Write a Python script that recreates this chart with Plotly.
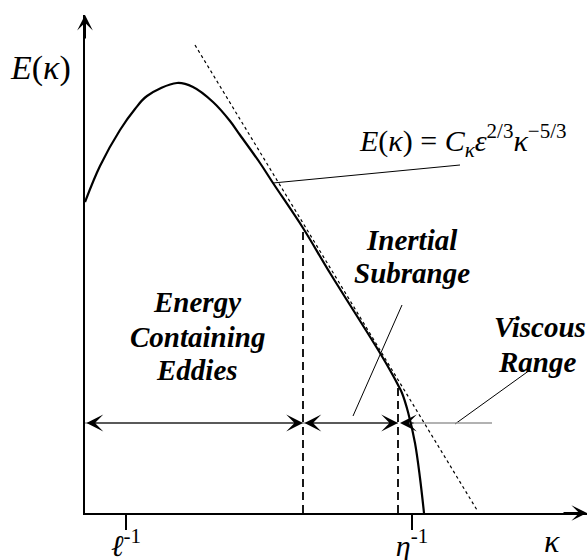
import plotly.graph_objects as go

# Energy spectrum curve E(kappa), schematic units
kappa = [0.0, 0.3, 0.7, 1.0, 1.24, 1.84, 2.16, 2.56, 2.9, 3.1, 3.5, 3.76, 4.36, 4.9, 5.9, 6.16, 6.26, 6.34, 6.46, 6.6, 6.7, 6.78]
energy = [6.22, 6.94, 7.66, 8.08, 8.34, 8.6, 8.52, 8.22, 7.84, 7.56, 7.0, 6.6, 5.7, 4.8, 3.2, 2.75, 2.56, 2.4, 2.02, 1.4, 0.7, 0.0]

# -5/3 law reference line (dotted)
law_k = [2.2, 7.84]
law_e = [9.36, 0.06]

# Range boundaries (dashed verticals)
bound_k = [4.36, 6.26]
bound_e = [5.7, 2.56]

# Tick positions and labels on kappa axis
tick_k = [0.82, 6.54]
tick_labels = ["<i>ℓ</i><sup>-1</sup>", "<i>η</i><sup>-1</sup>"]

# Range arrows row
arrow_e = 1.8
range_edges = [0.0, 4.36, 6.26]
viscous_head = 6.3
viscous_tail = 8.14

X_MAX, Y_MAX = 10.04, 9.96
SERIF = "Liberation Serif, Times New Roman, serif"

fig = go.Figure()

fig.add_trace(go.Scatter(x=kappa, y=energy, mode="lines",
                         line=dict(color="black", width=2.2, shape="spline", smoothing=1.0),
                         hoverinfo="skip", cliponaxis=False))
fig.add_trace(go.Scatter(x=law_k, y=law_e, mode="lines", line=dict(color="black", width=1.2, dash="dot"), hoverinfo="skip"))
for k, e in zip(bound_k, bound_e):
    fig.add_trace(go.Scatter(x=[k, k], y=[0, e], mode="lines",
                             line=dict(color="black", width=1.8, dash="8px,5px"), hoverinfo="skip"))

# leader lines
leaders = [
    ([3.76, 7.5], [6.6, 6.96], "black", 1),
    ([6.34, 5.36], [4.16, 1.94], "black", 1),
    ([8.9, 7.4], [2.86, 1.78], "black", 1),
    ([6.54, viscous_tail], [arrow_e, arrow_e], "#999999", 1.6),
]
for xs, ys, c, w in leaders:
    fig.add_trace(go.Scatter(x=xs, y=ys, mode="lines", line=dict(color=c, width=w), hoverinfo="skip"))

anns = []
# axis arrowheads
anns.append(dict(x=X_MAX, y=0, ax=X_MAX - 0.5, ay=0, xref="x", yref="y", axref="x", ayref="y",
                 showarrow=True, arrowhead=3, arrowsize=1.3, arrowwidth=2, arrowcolor="black", text=""))
anns.append(dict(x=0, y=Y_MAX, ax=0, ay=Y_MAX - 0.5, xref="x", yref="y", axref="x", ayref="y",
                 showarrow=True, arrowhead=3, arrowsize=1.3, arrowwidth=2, arrowcolor="black", text=""))
# range arrows (line drawn separately in gray, heads in black)
for a, b in zip(range_edges[:-1], range_edges[1:]):
    fig.add_trace(go.Scatter(x=[a, b], y=[arrow_e, arrow_e], mode="lines",
                             line=dict(color="#666666", width=1), hoverinfo="skip"))
    anns.append(dict(x=b, y=arrow_e, ax=a, ay=arrow_e, xref="x", yref="y", axref="x", ayref="y",
                     showarrow=True, arrowhead=3, startarrowhead=3, arrowside="end+start", arrowsize=2.8,
                     startarrowsize=2.8, arrowwidth=1, arrowcolor="black", text=""))
anns.append(dict(x=viscous_head, y=arrow_e, ax=6.6, ay=arrow_e, xref="x", yref="y", axref="x", ayref="y",
                 showarrow=True, arrowhead=3, arrowsize=2.8, arrowwidth=1, arrowcolor="black", text=""))


def txt(x, y, t, size):
    # place in paper coordinates so text outside the axes stays visible
    anns.append(dict(x=x / X_MAX, y=y / Y_MAX, xref="paper", yref="paper", text=t, showarrow=False,
                     xanchor="center", yanchor="middle",
                     font=dict(family=SERIF, size=size, color="black")))


txt(-0.9, 8.9, "<i>E</i>(<i>κ</i>)", 34)
txt(7.56, 7.46, "<i>E</i>(<i>κ</i>) = <i>C<sub>κ</sub>ε</i><sup>2/3</sup><i>κ</i><sup>−5/3</sup>", 30)
txt(6.54, 5.46, "<b><i>Inertial</i></b>", 29)
txt(6.54, 4.8, "<b><i>Subrange</i></b>", 29)
txt(2.24, 4.22, "<b><i>Energy</i></b>", 29)
txt(2.24, 3.52, "<b><i>Containing</i></b>", 29)
txt(2.24, 2.86, "<b><i>Eddies</i></b>", 29)
txt(9.1, 3.72, "<b><i>Viscous</i></b>", 29)
txt(9.04, 3.02, "<b><i>Range</i></b>", 29)
txt(9.34, -0.56, "<i>κ</i>", 32)

fig.update_layout(
    width=587, height=560,
    margin=dict(l=85, r=0, t=15, b=47, autoexpand=False),
    plot_bgcolor="white", paper_bgcolor="white",
    showlegend=False,
    annotations=anns,
    xaxis=dict(range=[0, X_MAX], showgrid=False, zeroline=False, showline=True, linecolor="black", linewidth=2,
               tickvals=tick_k, ticktext=tick_labels, ticks="outside", ticklen=15, tickwidth=2, tickcolor="black",
               ticklabelstandoff=-10,
               tickfont=dict(family=SERIF, size=30, color="black"), automargin=False),
    yaxis=dict(range=[0, Y_MAX], showgrid=False, zeroline=False, showline=True, linecolor="black", linewidth=2,
               showticklabels=False, ticks="", automargin=False),
)

# remove the page's default body margin so the 587x560 figure fills the window exactly
fig.write_html("out.html", config={"displayModeBar": False},
               post_script="document.body.style.margin='0';document.body.style.overflow='hidden';")
